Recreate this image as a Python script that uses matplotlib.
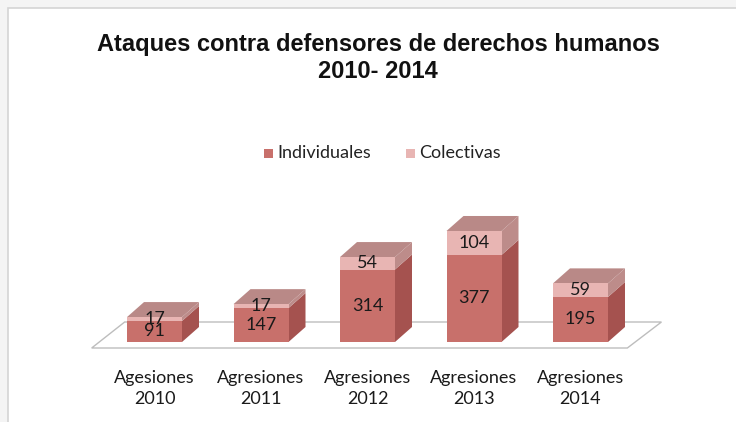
import numpy as np
import matplotlib

matplotlib.use("Agg")

import matplotlib.pyplot as plt
from matplotlib.patches import Polygon, Rectangle

categories = ["Agesiones\n2010", "Agresiones\n2011", "Agresiones\n2012",
              "Agresiones\n2013", "Agresiones\n2014"]
individuales = [91, 147, 314, 377, 195]
colectivas = [17, 17, 54, 104, 59]

c_ind = "#C8706B"
c_ind_side = "#A5524F"
c_col = "#E8B5B3"
c_col_side = "#BD8C8A"
c_top = "#B98987"

W, H = 736, 422
fig = plt.figure(figsize=(W / 100, H / 100), dpi=100)
fig.patch.set_facecolor("#F4F4F4")

# chart area frame
frame = fig.add_axes([0, 0, 1, 1])
frame.set_xlim(0, W)
frame.set_ylim(H, 0)
frame.axis("off")
frame.add_patch(Rectangle((7.5, 7.5), W, H, facecolor="white",
                          edgecolor="#D4D4D4", lw=1.2))

# plot axes: x in category units, y in values
px_per_cat = 106.5
px_per_val = 0.2308
x0_px, y0_px = 154.5, 342
ax = fig.add_axes([0, 0, 1, 1])
ax.patch.set_alpha(0)
ax.set_xlim(-x0_px / px_per_cat, (W - x0_px) / px_per_cat)
ax.set_ylim(-(H - y0_px) / px_per_val, y0_px / px_per_val)
ax.axis("off")

n = len(categories)
x = np.arange(n)
w = 55 / px_per_cat
dx = 17 / px_per_cat
dy = 15 / px_per_val

# floor
fy0 = -6 / px_per_val
fy1 = 20 / px_per_val
floor = Polygon([(-0.59, fy0), (n - 1 + 0.44, fy0), (n - 1 + 0.76, fy1),
                 (-0.28, fy1)], closed=True, facecolor="white",
                edgecolor="#BDBDBD", lw=1.0, zorder=1)
ax.add_patch(floor)

ax.bar(x, individuales, w, color=c_ind, zorder=3)
ax.bar(x, colectivas, w, bottom=individuales, color=c_col, zorder=3)

for i in range(n):
    xr = x[i] + w / 2
    xl = x[i] - w / 2
    b = 0
    for val, col in ((individuales[i], c_ind_side), (colectivas[i], c_col_side)):
        t = b + val
        ax.add_patch(Polygon([(xr, b), (xr + dx, b + dy), (xr + dx, t + dy), (xr, t)],
                             closed=True, facecolor=col, edgecolor="none", zorder=2))
        b = t
    top = individuales[i] + colectivas[i]
    ax.add_patch(Polygon([(xl, top), (xr, top), (xr + dx, top + dy), (xl + dx, top + dy)],
                         closed=True, facecolor=c_top, edgecolor="none", zorder=2))
    ax.text(x[i], individuales[i] / 2, str(individuales[i]), ha="center", va="center",
            fontsize=13, family="Lato", color="#1A1A1A", zorder=5)
    ax.text(x[i], individuales[i] + colectivas[i] / 2, str(colectivas[i]), ha="center",
            va="center", fontsize=13, family="Lato", color="#1A1A1A", zorder=5)
    ax.text(x[i], -28 / px_per_val, categories[i], ha="center", va="top",
            fontsize=13, family="Lato", color="#1A1A1A", linespacing=1.4)

# title
fig.text(378 / W, 1 - 45 / H, "Ataques contra defensores de derechos humanos",
         ha="center", va="center", fontsize=17, fontweight="bold",
         family="Liberation Sans", color="#111111")
fig.text(378 / W, 1 - 71 / H, "2010- 2014", ha="center", va="center",
         fontsize=17, fontweight="bold", family="Liberation Sans", color="#111111")

# legend
for lx, lab, col in ((268, "Individuales", c_ind), (410, "Colectivas", c_col)):
    frame.add_patch(Rectangle((lx - 4.5, 149), 9, 9, facecolor=col, edgecolor="none"))
    frame.text(lx + 9, 153.5, lab, ha="left", va="center", fontsize=13,
               family="Lato", color="#222222")

fig.savefig("out.png", dpi=100, facecolor=fig.get_facecolor())
